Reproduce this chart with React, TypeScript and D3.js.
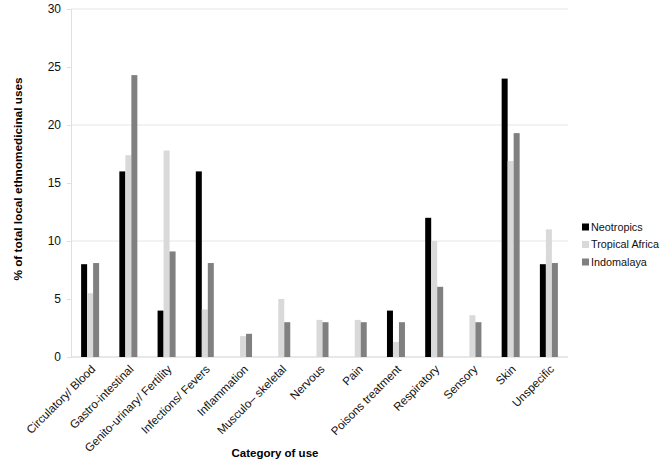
import { useRef, useEffect } from 'react';
import * as d3 from 'd3';

const categories = [
  'Circulatory/ Blood',
  'Gastro-intestinal',
  'Genito-urinary/ Fertility',
  'Infections/ Fevers',
  'Inflammation',
  'Musculo– skeletal',
  'Nervous',
  'Pain',
  'Poisons treatment',
  'Respiratory',
  'Sensory',
  'Skin',
  'Unspecific',
];

const seriesNames = ['Neotropics', 'Tropical Africa', 'Indomalaya'];
const neotropics = [8, 16, 4, 16, 0, 0, 0, 0, 4, 12, 0, 24, 8];
const tropicalAfrica = [5.5, 17.4, 17.8, 4.1, 1.8, 5.0, 3.2, 3.2, 1.3, 10, 3.6, 16.9, 11];
const indomalaya = [8.1, 24.3, 9.1, 8.1, 2.0, 3.0, 3.0, 3.0, 3.0, 6.05, 3.0, 19.3, 8.1];
const yTicks = [0, 5, 10, 15, 20, 25, 30];
const gridTicks = [10, 20, 30];

const colors = ['#000000', '#d9d9d9', '#808080'];
const font = 'Liberation Sans, Arial, sans-serif';

export default function App() {
  const svgRef = useRef<SVGSVGElement>(null);

  useEffect(() => {
    if (!svgRef.current) return;
    const width = 662;
    const height = 463;
    const margin = { top: 9, right: 94, bottom: 106, left: 71 };
    const innerW = width - margin.left - margin.right;
    const innerH = height - margin.top - margin.bottom;

    const svg = d3.select(svgRef.current);
    svg.selectAll('*').remove();

    const g = svg.append('g').attr('transform', `translate(${margin.left},${margin.top})`);

    const x = d3.scaleBand().domain(categories).range([0, innerW]);
    const xSub = d3.scaleBand().domain(seriesNames).range([x.bandwidth() / 2 - 9, x.bandwidth() / 2 + 9]);
    const y = d3.scaleLinear().domain([0, 30]).range([innerH, 0]);

    // gridlines
    g.selectAll('.grid')
      .data(gridTicks)
      .enter()
      .append('line')
      .attr('x1', 0)
      .attr('x2', innerW)
      .attr('y1', d => y(d))
      .attr('y2', d => y(d))
      .attr('stroke', '#e6e6e6')
      .attr('stroke-width', 1);

    // y axis
    g.append('g')
      .call(d3.axisLeft(y).tickValues(yTicks).tickSize(4).tickPadding(6))
      .call(a => a.select('.domain').attr('stroke', '#e0e0e0'))
      .call(a => a.selectAll('.tick line').attr('stroke', '#e0e0e0'))
      .call(a => a.selectAll('.tick text')
        .attr('fill', '#111')
        .attr('font-size', '12px')
        .attr('font-family', font));

    // baseline
    g.append('line')
      .attr('x1', 0)
      .attr('x2', innerW)
      .attr('y1', y(0))
      .attr('y2', y(0))
      .attr('stroke', '#e0e0e0')
      .attr('stroke-width', 1.5);

    const series = [neotropics, tropicalAfrica, indomalaya];
    series.forEach((vals, si) => {
      g.selectAll(`.bar-${si}`)
        .data(vals)
        .enter()
        .append('rect')
        .attr('x', (_, i) => x(categories[i])! + xSub(seriesNames[si])!)
        .attr('y', d => y(d))
        .attr('width', xSub.bandwidth())
        .attr('height', d => y(0) - y(d))
        .attr('fill', colors[si]);
    });

    // x tick labels
    g.selectAll('.xlabel')
      .data(categories)
      .enter()
      .append('text')
      .attr('transform', d => `translate(${x(d)! + x.bandwidth() / 2 + 3},${innerH + 10}) rotate(-45)`)
      .attr('text-anchor', 'end')
      .attr('dy', '0.35em')
      .attr('fill', '#111')
      .attr('font-size', '11.6px')
      .attr('font-family', font)
      .text(d => d);

    // axis titles
    svg.append('text')
      .attr('x', 275)
      .attr('y', 457)
      .attr('text-anchor', 'middle')
      .attr('font-size', '11.5px')
      .attr('font-weight', 'bold')
      .attr('fill', '#000')
      .attr('font-family', font)
      .text('Category of use');

    svg.append('text')
      .attr('transform', `translate(22,179) rotate(-90)`)
      .attr('text-anchor', 'middle')
      .attr('font-size', '11.8px')
      .attr('font-weight', 'bold')
      .attr('fill', '#000')
      .attr('font-family', font)
      .text('% of total local ethnomedicinal uses');

    // legend
    const legend = svg.append('g').attr('transform', 'translate(582,227)');
    seriesNames.forEach((name, i) => {
      const row = legend.append('g').attr('transform', `translate(0,${i * 17.5})`);
      row.append('rect').attr('x', 0).attr('y', -3.5).attr('width', 7).attr('height', 7).attr('fill', colors[i]);
      row.append('text')
        .attr('x', 9)
        .attr('dy', '0.35em')
        .attr('font-size', '10.8px')
        .attr('fill', '#111')
        .attr('font-family', font)
        .text(name);
    });
  }, []);

  return (
    <svg
      ref={svgRef}
      width={662}
      height={463}
      style={{ position: 'absolute', left: 0, top: 0, background: '#fff' }}
    />
  );
}
